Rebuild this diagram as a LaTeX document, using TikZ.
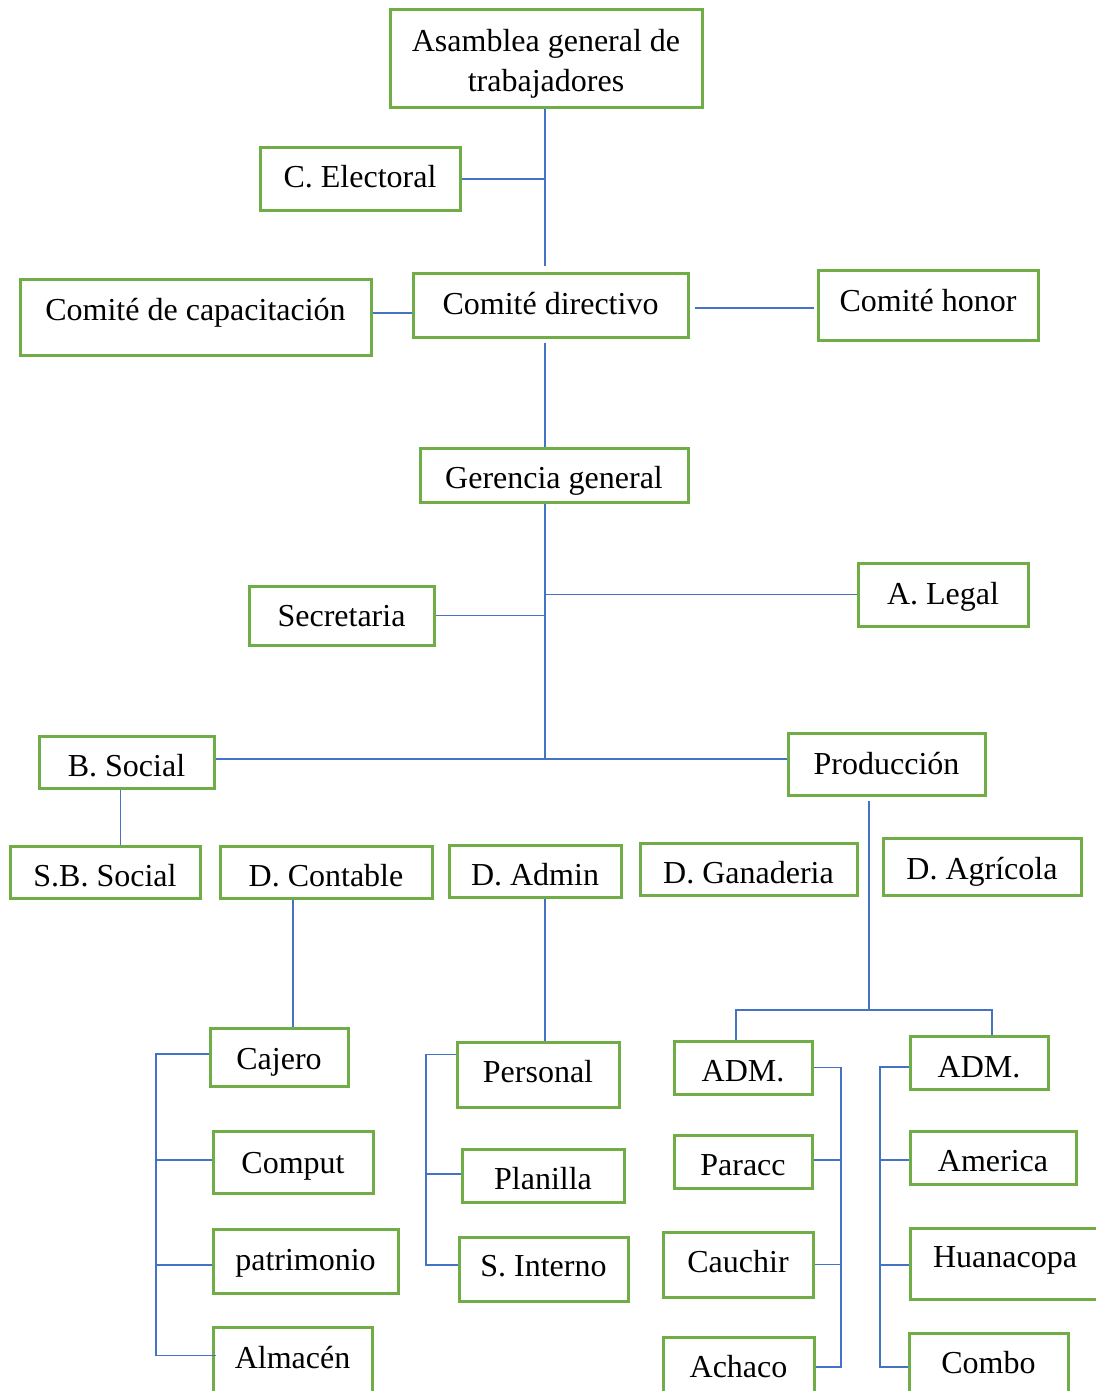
\documentclass[tikz,border=0pt]{standalone}
\usepackage{fontspec}
\setmainfont{Liberation Serif}
\definecolor{boxgreen}{RGB}{112,173,71}
\definecolor{lineblue}{RGB}{68,114,196}
\newcommand{\mv}[2]{\raisebox{-#1pt}[\height][\depth]{#2}}
\begin{document}
\begin{tikzpicture}[x=1pt,y=-1pt,
  box/.style={draw=boxgreen, line width=3pt, inner sep=0pt, align=center,
    font=\fontsize{32}{40}\selectfont, fill=white},
  conn/.style={draw=lineblue, line width=1.3pt}]
\useasboundingbox (0,0) rectangle (1095,1391);
% top levels
\node[box, minimum width=312, minimum height=98] (asam) at (546,59) {\mv{5}{\begin{tabular}{@{}c@{}}Asamblea general de\\trabajadores\end{tabular}}};
\node[box, minimum width=200, minimum height=62] (elect) at (360,179) {\mv{-2}{C. Electoral}};
\node[box, minimum width=351, minimum height=76] (capac) at (195.5,317) {\mv{-4}{Comité de capacitación}};
\node[box, minimum width=275, minimum height=64] (direc) at (550.5,305) {\mv{-1}{Comité directivo}};
\node[box, minimum width=220, minimum height=70] (honor) at (928,305) {\mv{-4}{Comité honor}};
\node[box, minimum width=268, minimum height=54] (geren) at (554,475) {\mv{6}{Gerencia general}};
\node[box, minimum width=185, minimum height=59] (secre) at (341.5,615.5) {\mv{1}{Secretaria}};
\node[box, minimum width=170, minimum height=63] (legal) at (943,594.5) {\mv{2}{A. Legal}};
\node[box, minimum width=175, minimum height=52] (bsoc) at (126.5,762) {\mv{4}{B. Social}};
\node[box, minimum width=197, minimum height=62] (prod) at (886.5,764) {Producción};
% departments
\node[box, minimum width=190, minimum height=52] (sbsoc) at (105,872) {\mv{4}{S.B. Social}};
\node[box, minimum width=212, minimum height=52] (dcont) at (326,872) {\mv{4}{D. Contable}};
\node[box, minimum width=172, minimum height=52] (dadm) at (535,871) {\mv{4}{D. Admin}};
\node[box, minimum width=217, minimum height=52] (dgan) at (748.5,869) {\mv{4}{D. Ganaderia}};
\node[box, minimum width=198, minimum height=57] (dagr) at (982,866.5) {\mv{5}{D. Agrícola}};
% contable
\node[box, minimum width=138, minimum height=58] (cajero) at (279,1057) {\mv{5}{Cajero}};
\node[box, minimum width=160, minimum height=62] (comput) at (293,1162) {\mv{4}{Comput}};
\node[box, minimum width=185, minimum height=64] (patri) at (305.5,1261) {\mv{2}{patrimonio}};
\node[box, minimum width=159, minimum height=73] (almac) at (292.5,1363.5) {\mv{-6}{Almacén}};
% admin
\node[box, minimum width=162, minimum height=65] (personal) at (538,1074.5) {\mv{-3}{Personal}};
\node[box, minimum width=162, minimum height=53] (planilla) at (543,1175.5) {\mv{3}{Planilla}};
\node[box, minimum width=169, minimum height=64] (sint) at (543.5,1269) {\mv{-3}{S. Interno}};
% produccion
\node[box, minimum width=138, minimum height=53] (admA) at (743,1067.5) {\mv{4}{ADM.}};
\node[box, minimum width=138, minimum height=53] (paracc) at (743,1161.5) {\mv{4}{Paracc}};
\node[box, minimum width=150, minimum height=65] (cauchir) at (738,1264.5) {\mv{-3}{Cauchir}};
\node[box, minimum width=151, minimum height=63] (achaco) at (738.5,1368.5) {\mv{-2}{Achaco}};
\node[box, minimum width=138, minimum height=53] (admB) at (979,1062.5) {\mv{5}{ADM.}};
\node[box, minimum width=166, minimum height=53] (america) at (993,1157.5) {\mv{4}{America}};
\node[box, minimum width=190, minimum height=71] (huana) at (1005,1263.5) {\mv{-3}{Huanacopa}};
\node[box, minimum width=159, minimum height=67] (combo) at (988.5,1366.5) {\mv{-4}{Combo}};
% helper coordinates
\coordinate (spine) at (545,0);
\coordinate (bA) at (156,0);
\coordinate (bB) at (426,0);
\coordinate (bC) at (841,0);
\coordinate (bD) at (880,0);
\coordinate (pj) at (869,1010);
\coordinate (pl) at (736,1010);
\coordinate (pr) at (992,1010);
% connectors top
\draw[conn] (asam.south -| spine) -- ([yshift=6]direc.north -| spine);
\draw[conn] (elect.east) -- (elect.east -| spine);
\draw[conn] ([yshift=4]capac.east) -- ([yshift=4]capac.east -| direc.west);
\draw[conn] ([xshift=5,yshift=-3]direc.east) -- ([xshift=-3,yshift=-3]direc.east -| honor.west);
\draw[conn] ([yshift=-4]direc.south -| spine) -- (geren.north -| spine);
\draw[conn] (geren.south -| spine) -- ([yshift=3]bsoc.east -| spine);
\draw[conn] (secre.east) -- (secre.east -| spine);
\draw[conn] (legal.west) -- (legal.west -| spine);
\draw[conn] ([yshift=3]bsoc.east) -- ([yshift=3]bsoc.east -| prod.west);
\draw[conn] ([xshift=-6]bsoc.south) -- ([xshift=-6]bsoc.south |- sbsoc.north);
\draw[conn] ([yshift=-4]prod.south -| pj) -- (pj);
\draw[conn] (pl |- admA.north) -- (pl) -- (pr) -- (pr |- admB.north);
% contable branch
\draw[conn] ([xshift=-33]dcont.south) -- ([xshift=-33]dcont.south |- cajero.north);
\draw[conn] ([yshift=3]cajero.west) -- ([yshift=3]cajero.west -| bA) -- ([yshift=8]almac.west -| bA) -- ([yshift=8,xshift=4]almac.west);
\draw[conn] ([yshift=2]comput.west) -- ([yshift=2]comput.west -| bA);
\draw[conn] ([yshift=-4]patri.west) -- ([yshift=-4]patri.west -| bA);
% admin branch
\draw[conn] ([xshift=10]dadm.south) -- ([xshift=10]dadm.south |- personal.north);
\draw[conn] ([yshift=20]personal.west) -- ([yshift=20]personal.west -| bB) -- ([yshift=4]sint.west -| bB) -- ([yshift=4]sint.west);
\draw[conn] ([yshift=1.5]planilla.west) -- ([yshift=1.5]planilla.west -| bB);
% produccion branches
\draw[conn] (admA.east) -- (admA.east -| bC) -- ([yshift=1.5]achaco.east -| bC) -- ([yshift=1.5]achaco.east);
\draw[conn] ([yshift=1.5]paracc.east) -- ([yshift=1.5]paracc.east -| bC);
\draw[conn] (cauchir.east) -- (cauchir.east -| bC);
\draw[conn] ([yshift=-4.5]admB.west) -- ([yshift=-4.5]admB.west -| bD) -- ([yshift=-0.5]combo.west -| bD) -- ([yshift=-0.5]combo.west);
\draw[conn] ([yshift=-2.5]america.west) -- ([yshift=-2.5]america.west -| bD);
\draw[conn] ([yshift=-1.5]huana.west) -- ([yshift=-1.5]huana.west -| bD);
\end{tikzpicture}
\end{document}
